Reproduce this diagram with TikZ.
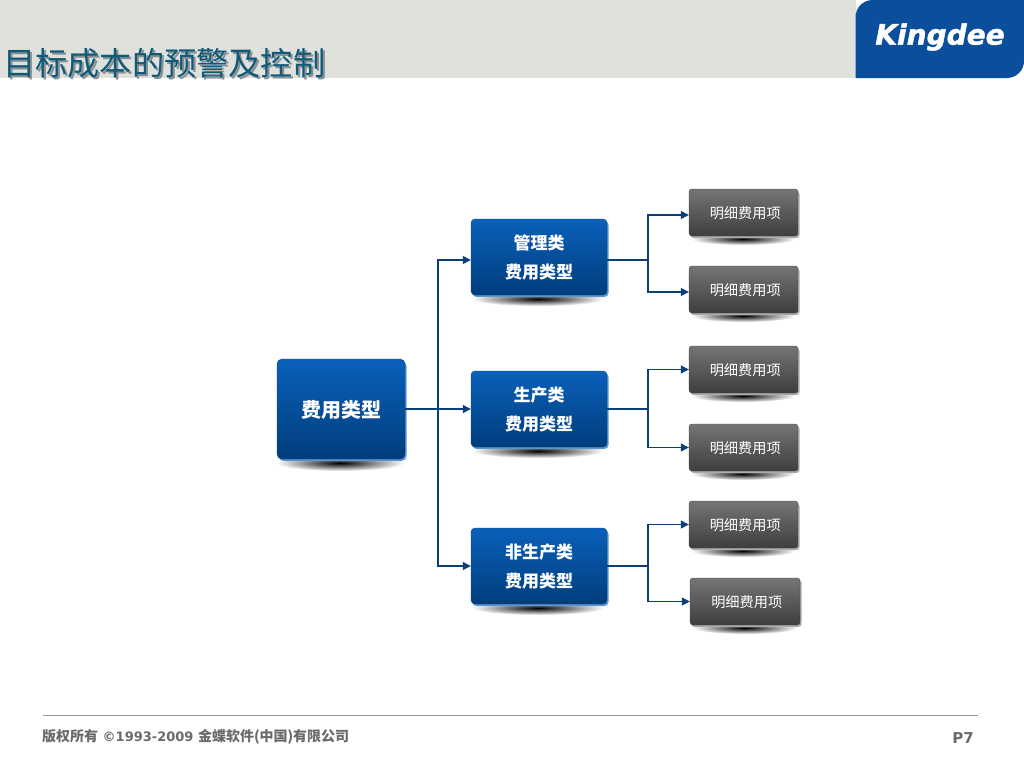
\documentclass[tikz,border=0pt]{standalone}
\usepackage{fontspec}
\usepackage{xcolor}
\setmainfont{Noto Sans CJK SC}
\newfontfamily\latinfont{DejaVu Sans}
\newfontfamily\logofont{DejaVu Sans}[BoldItalicFeatures={FakeBold=1.5}]
\usetikzlibrary{arrows.meta, shadows, calc}
\definecolor{barGrey}{HTML}{E0E1DD}
\definecolor{logoBlue}{HTML}{0B4F9C}
\definecolor{titleTeal}{HTML}{0F5A78}
\definecolor{titleShade}{HTML}{8A9094}
\definecolor{boxTop}{HTML}{0A60BA}
\definecolor{boxBot}{HTML}{003D7C}
\definecolor{boxRim}{HTML}{5F95CB}
\definecolor{boxEdge}{HTML}{0B4A80}
\definecolor{leafTop}{HTML}{757575}
\definecolor{leafBot}{HTML}{3E3E3E}
\definecolor{leafRim}{HTML}{ABABAB}
\definecolor{lineBlue}{HTML}{0B3F7A}
\definecolor{footGrey}{HTML}{6A6A6A}

\begin{document}
\begin{tikzpicture}[x=1pt, y=-1pt,
  rootbox/.style={rectangle, rounded corners=5pt, draw=boxEdge, top color=boxTop, bottom color=boxBot,
                  general shadow={fill=boxRim, shadow xshift=1.5pt, shadow yshift=-2pt},
                  minimum width=128pt, minimum height=100pt, inner sep=0pt, text depth=0.4pt,
                  text=white, font=\fontsize{20}{24}\selectfont\bfseries},
  midbox/.style={rectangle, rounded corners=4pt, draw=boxEdge, top color=boxTop, bottom color=boxBot,
                 general shadow={fill=boxRim, shadow xshift=1.5pt, shadow yshift=-2pt},
                 minimum width=136pt, minimum height=76pt, inner sep=0pt, align=center, text depth=-2pt,
                 text=white, font=\fontsize{17}{29}\selectfont\bfseries},
  leafbox/.style={rectangle, rounded corners=3pt, draw=leafTop!60!black, top color=leafTop, bottom color=leafBot,
                  general shadow={fill=leafRim, shadow xshift=1.5pt, shadow yshift=-2pt},
                  minimum width=109pt, minimum height=47pt, inner sep=0pt, text depth=-1pt,
                  execute at begin node={\hspace*{3.5pt}},
                  text=white, font=\fontsize{14.2}{17}\selectfont},
  flr/.style={inner color=black, outer color=white},
  lnk/.style={lineBlue, line width=1.4pt},
  arr/.style={-{Triangle[length=8pt, width=8pt]}, lineBlue, line width=1.2pt}
]
  \useasboundingbox (0,0) rectangle (1024,768);

  % header
  \fill[barGrey] (0,0) rectangle (856,78);
  \fill[logoBlue] (855.5,78) [rounded corners=17pt] -- (855.5,0) [sharp corners] -- (1024,0)
    [rounded corners=17pt] -- (1024,78) [sharp corners] -- cycle;
  \node[text=white, inner sep=0pt, font=\fontsize{28}{32}\selectfont\logofont\bfseries\itshape] (logo) at (940,37) {Kingdee};
  \node[anchor=west, inner sep=0pt, text=titleShade, font=\fontsize{32.2}{40}\selectfont] (titleback) at (5,65) {目标成本的预警及控制};
  \node[anchor=west, inner sep=0pt, text=titleTeal, font=\fontsize{32.2}{40}\selectfont] (title) at (3,63) {目标成本的预警及控制};

  % floor shadows
  \shade[flr] (340,463) ellipse (64pt and 8pt);
  \shade[flr] (538,299) ellipse (66pt and 7pt);
  \shade[flr] (538,451) ellipse (66pt and 7pt);
  \shade[flr] (538,608) ellipse (66pt and 7pt);
  \shade[flr] (743,239) ellipse (52pt and 6pt);
  \shade[flr] (743,316) ellipse (52pt and 6pt);
  \shade[flr] (743,396) ellipse (52pt and 6pt);
  \shade[flr] (743,474) ellipse (52pt and 6pt);
  \shade[flr] (743,551) ellipse (52pt and 6pt);
  \shade[flr] (745,628) ellipse (52pt and 6pt);

  \node[rootbox] (root) at (341,409) {费用类型};

  \node[midbox] (mgmt) at (539,257) {管理类\\费用类型};
  \node[midbox] (prod) at (539,409) {生产类\\费用类型};
  \node[midbox] (nonp) at (539,566) {非生产类\\费用类型};

  \node[leafbox] (l1) at (743.5,212.5) {明细费用项};
  \node[leafbox] (l2) at (743.5,289.5) {明细费用项};
  \node[leafbox] (l3) at (743.5,369.5) {明细费用项};
  \node[leafbox] (l4) at (743.5,447.5) {明细费用项};
  \node[leafbox] (l5) at (743.5,524.5) {明细费用项};
  \node[leafbox, minimum width=110pt] (l6) at (745,601.5) {明细费用项};

  % junctions
  \coordinate (jroot) at (438,409);
  \coordinate (jmgmt) at (648,260);
  \coordinate (jprod) at (648,409);
  \coordinate (jnonp) at (648,566);

  \draw[lnk] (root.east) -- (jroot);
  \draw[arr] (jroot) -- (prod.west);
  \draw[arr] (jroot) |- ([yshift=-3pt]mgmt.west);
  \draw[arr] (jroot) |- (nonp.west);

  \draw[lnk] ([yshift=-3pt]mgmt.east) -- (jmgmt);
  \draw[arr] (jmgmt) |- ([yshift=-2.5pt]l1.west);
  \draw[arr] (jmgmt) |- ([yshift=-2.5pt]l2.west);

  \draw[lnk] (prod.east) -- (jprod);
  \draw[arr] (jprod) |- (l3.west);
  \draw[arr] (jprod) |- (l4.west);

  \draw[lnk] (nonp.east) -- (jnonp);
  \draw[arr] (jnonp) |- (l5.west);
  \draw[arr] (jnonp) |- (l6.west);

  % footer
  \coordinate (footl) at (43,715);
  \coordinate (footr) at (978,715);
  \draw[black!40, line width=1pt] (footl) -- (footr);
  \node[anchor=west, inner sep=0pt, text=footGrey, font=\fontsize{14}{17}\selectfont\bfseries] (copy) at (42,737)
    {版权所有{\latinfont\fontsize{13}{17}\selectfont\ ©1993-2009\ }金蝶软件(中国)有限公司};
  \node[anchor=east, inner sep=0pt, text=footGrey, font=\fontsize{15}{17}\selectfont\latinfont\bfseries] (page) at (974,738) {P7};
\end{tikzpicture}
\end{document}
